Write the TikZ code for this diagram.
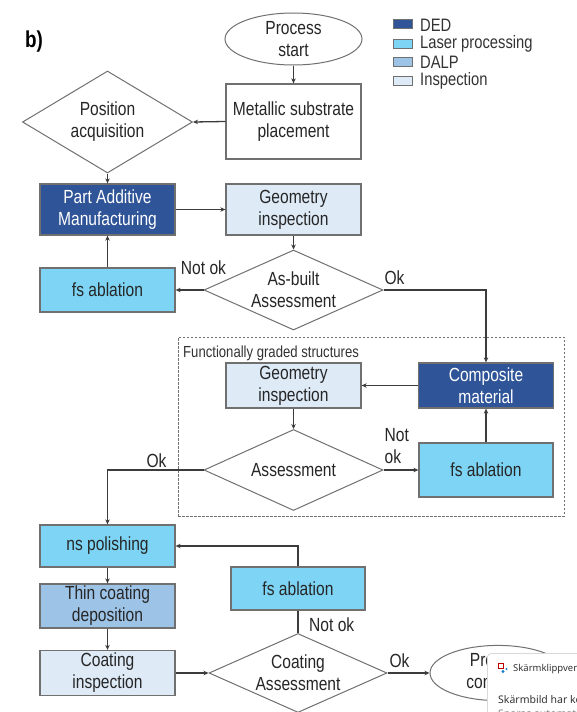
\documentclass[tikz,border=0pt]{standalone}
\usepackage{fontspec}
\setmainfont{Liberation Sans}[FakeStretch=0.82]
\newfontfamily\popfont{Noto Sans}
\usetikzlibrary{positioning, arrows.meta, calc, shapes.geometric}
\definecolor{dedblue}{RGB}{47,84,152}
\definecolor{laserblue}{RGB}{125,212,244}
\definecolor{dalpblue}{RGB}{157,195,230}
\definecolor{inspblue}{RGB}{222,235,247}
\definecolor{edgegray}{RGB}{112,112,112}
\definecolor{linegray}{RGB}{60,60,60}
\begin{document}
\begin{tikzpicture}[x=1pt,y=-1pt,box/.style={draw=edgegray,line width=1.3pt,align=center,minimum width=135pt,inner sep=2pt,font=\fontsize{19}{22}\selectfont,text=black!85},ded/.style={box,fill=dedblue,text=white},laser/.style={box,fill=laserblue},dalp/.style={box,fill=dalpblue},insp/.style={box,fill=inspblue},whitebox/.style={box,fill=white},decision/.style={diamond,draw=edgegray,line width=1pt,align=center,inner sep=0pt,font=\fontsize{19}{22}\selectfont,text=black!85},terminal/.style={ellipse,draw=edgegray,line width=1pt,align=center,inner sep=0pt,fill=white,font=\fontsize{19}{22}\selectfont,text=black!85},arrow/.style={-{Stealth[length=5pt,width=4.5pt]},line width=1.3pt,draw=linegray},joinline/.style={line width=1.3pt,draw=linegray},flowlabel/.style={font=\fontsize{19}{22}\selectfont,text=black!85,inner sep=1pt},swatch/.style={draw=edgegray,line width=0.6pt,minimum width=19pt,minimum height=9pt,inner sep=0pt},legendtext/.style={anchor=west,font=\fontsize{18}{18}\selectfont,text=black!80,inner sep=0pt},popuptext/.style={anchor=west,font=\popfont\fontsize{9.5}{10}\selectfont,text=black!80,inner sep=0pt}]
\useasboundingbox (0,0) rectangle (577,712);
\fill[white] (0,0) rectangle (577,712);
\clip (0,0) rectangle (577,712);
\node[font=\fontsize{23}{23}\selectfont\bfseries] (panel) at (34,42) {b)};
\node[swatch,fill=dedblue] (keyded) at (402.5,24) {};
\node[legendtext] (keydedtext) at (420,25) {DED};
\node[swatch,fill=laserblue] (keylaser) at (402.5,43.5) {};
\node[legendtext] (keylasertext) at (420,44) {Laser processing};
\node[swatch,fill=dalpblue] (keydalp) at (402.5,61.5) {};
\node[legendtext] (keydalptext) at (420,62) {DALP};
\node[swatch,fill=inspblue] (keyinsp) at (402.5,80.5) {};
\node[legendtext] (keyinsptext) at (420,80.5) {Inspection};
\node[draw=edgegray,line width=1pt,dash pattern=on 2.5pt off 1.5pt,minimum width=386pt,minimum height=179pt,inner sep=0pt] (fgs) at (371,426.5) {};
\node[anchor=base west,font=\fontsize{16}{16}\selectfont,text=black!80,inner sep=0pt] (fgstitle) at (183,357) {Functionally graded structures};
\node[terminal,minimum width=137pt,minimum height=52pt] (start) at (293.5,39) {Process\\start};
\node[whitebox,minimum height=75pt] (metal) at (293.5,121.5) {Metallic substrate\\placement};
\node[decision,aspect=1.67,minimum width=170pt,minimum height=102pt] (posacq) at (107.5,122) {Position\\acquisition};
\node[ded,minimum height=51pt] (pam) at (107.5,209.5) {Part Additive\\Manufacturing};
\node[insp,minimum height=51pt] (geo1) at (293.5,209.5) {Geometry\\inspection};
\node[decision,aspect=2.2,minimum width=179pt,minimum height=80pt] (asbuilt) at (293.5,290) {As-built\\Assessment};
\node[laser,minimum height=44pt] (fsabl1) at (107.5,290) {fs ablation};
\node[insp,minimum height=45pt] (geo2) at (293.5,385.5) {Geometry\\inspection};
\node[ded,minimum height=45pt] (compos) at (486,385.5) {Composite\\material};
\node[decision,aspect=2.2,minimum width=179pt,minimum height=81pt] (assess) at (293.5,470) {Assessment};
\node[laser,minimum width=134pt,minimum height=54pt] (fsabl2) at (486,470) {fs ablation};
\node[laser,minimum height=42pt] (nspol) at (107.5,546) {ns polishing};
\node[dalp,minimum height=44pt] (thin) at (107.5,606) {Thin coating\\deposition};
\node[insp,minimum height=45pt] (coatinsp) at (107.5,673) {Coating\\inspection};
\node[laser,minimum width=134pt,minimum height=43pt] (fsabl3) at (298,588.5) {fs ablation};
\node[decision,aspect=2.2,minimum width=178pt,minimum height=79pt] (coatass) at (298,673) {Coating\\Assessment};
\node[terminal,minimum width=136pt,minimum height=46pt] (finish) at (498,673) {Process\\complete};
\draw[arrow] (start.south) -- (metal.north);
\draw[arrow] (metal.west) -- (posacq.east);
\draw[arrow] (posacq.south) -- (pam.north);
\draw[arrow] (pam.east) -- (geo1.west);
\draw[arrow] (geo1.south) -- (asbuilt.north);
\draw[arrow] (asbuilt.west) -- (fsabl1.east);
\draw[arrow] (fsabl1.north) -- (pam.south);
\draw[arrow] (asbuilt.east) -| (compos.north);
\draw[arrow] (compos.west) -- (geo2.east);
\draw[arrow] (geo2.south) -- (assess.north);
\draw[arrow] (assess.east) -- (fsabl2.west);
\draw[arrow] (fsabl2.north) -- (compos.south);
\draw[arrow] (assess.west) -| (nspol.north);
\draw[arrow] (nspol.south) -- (thin.north);
\draw[arrow] (thin.south) -- (coatinsp.north);
\draw[arrow] (coatinsp.east) -- (coatass.west);
\draw[joinline] (coatass.north) -- (fsabl3.south);
\draw[arrow] (fsabl3.north) |- (nspol.east);
\draw[arrow] (coatass.east) -- (finish.west);
\node[flowlabel] (notok1) at ($(asbuilt.west)+(0,-22)$) {Not ok};
\node[flowlabel] (ok1) at ($(asbuilt.east)+(11,-12)$) {Ok};
\node[flowlabel,align=left,anchor=west] (notok2) at ($(assess.east)+(0,-24)$) {Not\\ok};
\node[flowlabel] (ok2) at ($(assess.west)+(-47,-9)$) {Ok};
\node[flowlabel,anchor=west] (notok3) at ($(coatass.north)+(10,-8)$) {Not ok};
\node[flowlabel] (ok3) at ($(coatass.east)+(12,-12)$) {Ok};
\node[draw=black!15,line width=0.8pt,fill=white,rounded corners=4pt,minimum width=110pt,minimum height=80pt,anchor=north west,inner sep=0pt] (popup) at (487,653) {};
\draw[red!75!black,line width=0.7pt] (498.5,663.5) rectangle (503.5,668.5);
\fill[cyan!60!blue] (503,671.5) circle (1.7pt);
\fill[cyan!60!blue] (506.5,669) circle (1.2pt);
\node[popuptext] (popuptitle) at (513,669) {Skärmklippverk};
\node[popuptext,font=\popfont\fontsize{10.5}{11}\selectfont] (popupmsg) at (498,700) {Skärmbild har ko};
\node[popuptext,font=\popfont\fontsize{10.5}{11}\selectfont,text=black!50] (popupnote) at (498,715) {Sparas automatis};
\end{tikzpicture}
\end{document}
